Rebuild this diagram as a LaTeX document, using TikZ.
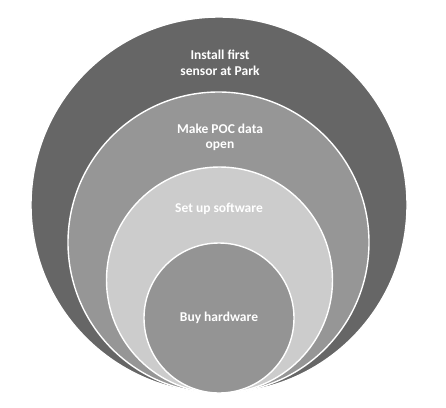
\documentclass[tikz,border=0pt]{standalone}
\usepackage{fontspec}
\setmainfont{Carlito}
\begin{document}
\begin{tikzpicture}[x=1pt,y=-1pt,
  ring/.style={circle,draw=white,line width=1.4pt,inner sep=0pt,outer sep=0pt},
  lbl/.style={text=white,font=\fontsize{13.5}{15.5}\selectfont\bfseries,align=center,inner sep=0pt}]
  \useasboundingbox (0,0) rectangle (446,407);
  % nested rings, all touching at the bottom
  \node[ring,fill=black!60,minimum size=376pt] (r1) at (219,205) {};
  \node[ring,fill=black!41,minimum size=301pt] (r2) at (218.5,242.5) {};
  \node[ring,fill=black!20,minimum size=226pt] (r3) at (219.5,280) {};
  \node[ring,fill=black!42,minimum size=150pt] (r4) at (219,318) {};
  % ring captions
  \node[lbl] (t1) at (220,63) {Install first\\sensor at Park};
  \node[lbl] (t2) at (220,137.5) {Make POC data\\open};
  \node[lbl] (t3) at (219,209) {Set up software};
  \node[lbl] (t4) at (219,318) {Buy hardware};
\end{tikzpicture}
\end{document}
